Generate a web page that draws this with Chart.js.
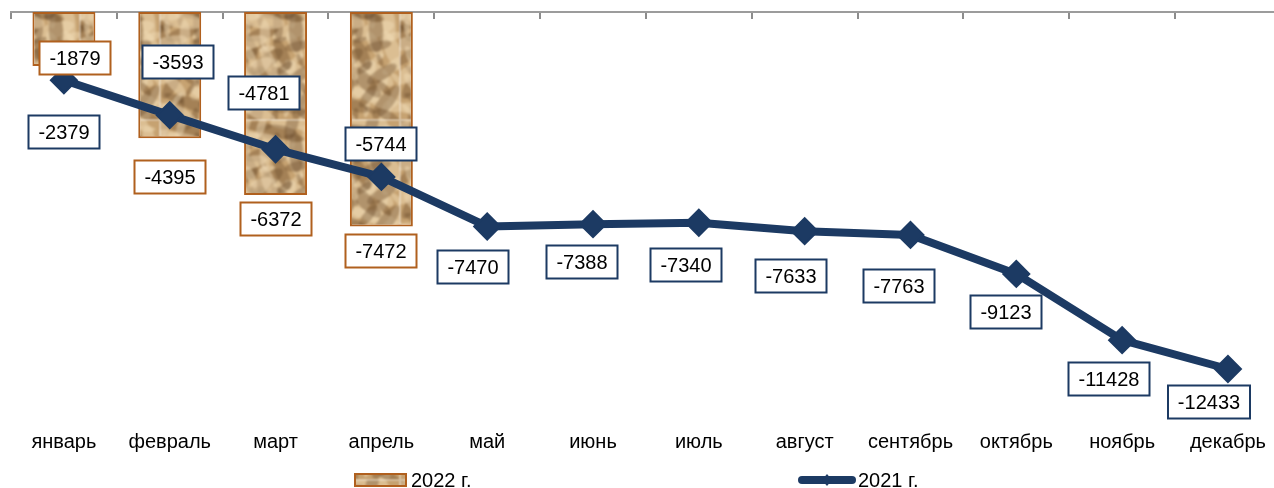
<!DOCTYPE html>
<html>
<head>
<meta charset="utf-8">
<script src="https://cdn.jsdelivr.net/npm/chart.js@4.4.1/dist/chart.umd.min.js"></script>
<style>
  html, body { margin: 0; padding: 0; background: #fff; overflow: hidden; }
  canvas { display: block; }
</style>
</head>
<body>
<canvas id="chart" width="1282" height="488"></canvas>
<script>
// Data
const months = ['январь', 'февраль', 'март', 'апрель', 'май', 'июнь',
  'июль', 'август', 'сентябрь', 'октябрь', 'ноябрь', 'декабрь'];
const values2022 = [-1879, -4395, -6372, -7472];
const values2021 = [-2379, -3593, -4781, -5744, -7470, -7388,
  -7340, -7633, -7763, -9123, -11428, -12433];
const seriesNames = ['2022 г.', '2021 г.'];

// where each value box sits, px away from its mark
const shift2022 = [[11, -8], [0, 39], [0, 24], [0, 24]];
const shift2021 = [[0, 52], [8, -53], [-12, -56], [0, -33], [-14, 41], [-11, 38],
  [-13, 42], [-14, 45], [-11, 51], [-10, 38], [-13, 39], [-19, 33]];

const FONT = '"Liberation Sans", Arial, sans-serif';
const NAVY = '#1c3a63';
const BROWN = '#b0601e';

// crumpled sandy paper texture for the bars
function makeSand() {
  const raw = document.createElement('canvas');
  raw.width = 80; raw.height = 120;
  const g = raw.getContext('2d');
  g.fillStyle = '#c6a271';
  g.fillRect(0, 0, 80, 120);
  for (let i = 0; i < 70; i++) {
    const x = (i * 41) % 80, y = (i * 67) % 120;
    const r = 4 + (i * 13) % 10;
    g.fillStyle = i % 2 === 0 ? 'rgba(100,68,38,0.35)' : 'rgba(240,218,180,0.5)';
    g.beginPath();
    g.ellipse(x, y, r * 1.7, r * 0.6, (i * 0.7) % 3.14, 0, Math.PI * 2);
    g.fill();
  }
  const c = document.createElement('canvas');
  c.width = 80; c.height = 120;
  const g2 = c.getContext('2d');
  g2.filter = 'blur(1.2px)';
  for (let dx = -80; dx <= 80; dx += 80)
    for (let dy = -120; dy <= 120; dy += 120) g2.drawImage(raw, dx, dy);
  return c;
}
const sand = document.getElementById('chart').getContext('2d').createPattern(makeSand(), 'repeat');

const boxLabels = {
  id: 'boxLabels',
  afterDatasetsDraw(chart) {
    const ctx = chart.ctx;
    ctx.save();
    ctx.font = '20px ' + FONT;
    ctx.textAlign = 'center';
    ctx.textBaseline = 'middle';
    chart.data.datasets.forEach((ds, di) => {
      const meta = chart.getDatasetMeta(di);
      meta.data.forEach((el, i) => {
        const v = ds.data[i];
        if (v == null) return;
        const x = Math.round(el.x + ds.labelShift[i][0]);
        const y = Math.round(el.y + ds.labelShift[i][1]);
        const text = String(v);
        const w = Math.round(ctx.measureText(text).width) + 20, h = 33;
        ctx.fillStyle = '#fff';
        ctx.fillRect(x - w / 2, y - h / 2, w, h);
        ctx.lineWidth = 2;
        ctx.strokeStyle = ds.labelBorder;
        ctx.strokeRect(x - w / 2, y - h / 2, w, h);
        ctx.fillStyle = '#000';
        ctx.fillText(text, x, y + 1);
      });
    });
    ctx.restore();
  }
};

const bottomLegend = {
  id: 'bottomLegend',
  afterDraw(chart) {
    const ctx = chart.ctx;
    ctx.save();
    ctx.font = '20px ' + FONT;
    ctx.textBaseline = 'alphabetic';
    // bar swatch
    ctx.fillStyle = sand;
    ctx.fillRect(355, 474, 51, 12);
    ctx.lineWidth = 2;
    ctx.strokeStyle = BROWN;
    ctx.strokeRect(355, 474, 51, 12);
    ctx.fillStyle = '#000';
    ctx.fillText(seriesNames[0], 411, 487);
    // line swatch
    ctx.strokeStyle = NAVY;
    ctx.lineWidth = 8;
    ctx.lineCap = 'round';
    ctx.beginPath(); ctx.moveTo(802, 480); ctx.lineTo(852, 480); ctx.stroke();
    ctx.fillStyle = NAVY;
    ctx.beginPath();
    ctx.moveTo(827, 474); ctx.lineTo(832, 480); ctx.lineTo(827, 486); ctx.lineTo(822, 480);
    ctx.closePath(); ctx.fill();
    ctx.fillStyle = '#000';
    ctx.fillText(seriesNames[1], 858, 487);
    ctx.restore();
  }
};

new Chart(document.getElementById('chart'), {
  data: {
    labels: months,
    datasets: [{
      type: 'line',
      label: seriesNames[1],
      data: values2021,
      order: 0,
      clip: false,
      borderColor: NAVY,
      borderWidth: 8,
      borderJoinStyle: 'round',
      tension: 0,
      pointStyle: 'rectRot',
      pointRadius: 13,
      pointBorderWidth: 2,
      pointBackgroundColor: NAVY,
      pointBorderColor: NAVY,
      labelShift: shift2021,
      labelBorder: NAVY
    }, {
      type: 'bar',
      label: seriesNames[0],
      data: values2022,
      order: 1,
      backgroundColor: sand,
      borderColor: BROWN,
      borderWidth: 2,
      borderSkipped: false,
      categoryPercentage: 1,
      barPercentage: 0.595,
      labelShift: shift2022,
      labelBorder: BROWN
    }]
  },
  options: {
    responsive: false,
    animation: false,
    devicePixelRatio: 1,
    layout: { autoPadding: false, padding: { top: 12, left: 11, right: 0, bottom: 18 } },
    plugins: {
      legend: { display: false },
      tooltip: { enabled: false }
    },
    scales: {
      x: {
        type: 'category',
        position: 'bottom',
        offset: true,
        grid: { display: false, drawTicks: false },
        border: { display: false },
        ticks: { color: '#000', padding: 16, font: { size: 20, family: FONT }, maxRotation: 0, autoSkip: false }
      },
      x2: {
        type: 'category',
        position: { y: 0 },
        offset: true,
        grid: { offset: true, drawOnChartArea: false, drawTicks: true, tickLength: 6, color: '#8c8c8c', lineWidth: 2 },
        border: { display: true, color: '#9c9c9c', width: 2 },
        ticks: { display: false }
      },
      y: {
        display: false,
        min: -14000,
        max: 0
      }
    }
  },
  plugins: [boxLabels, bottomLegend]
});
</script>
</body>
</html>
